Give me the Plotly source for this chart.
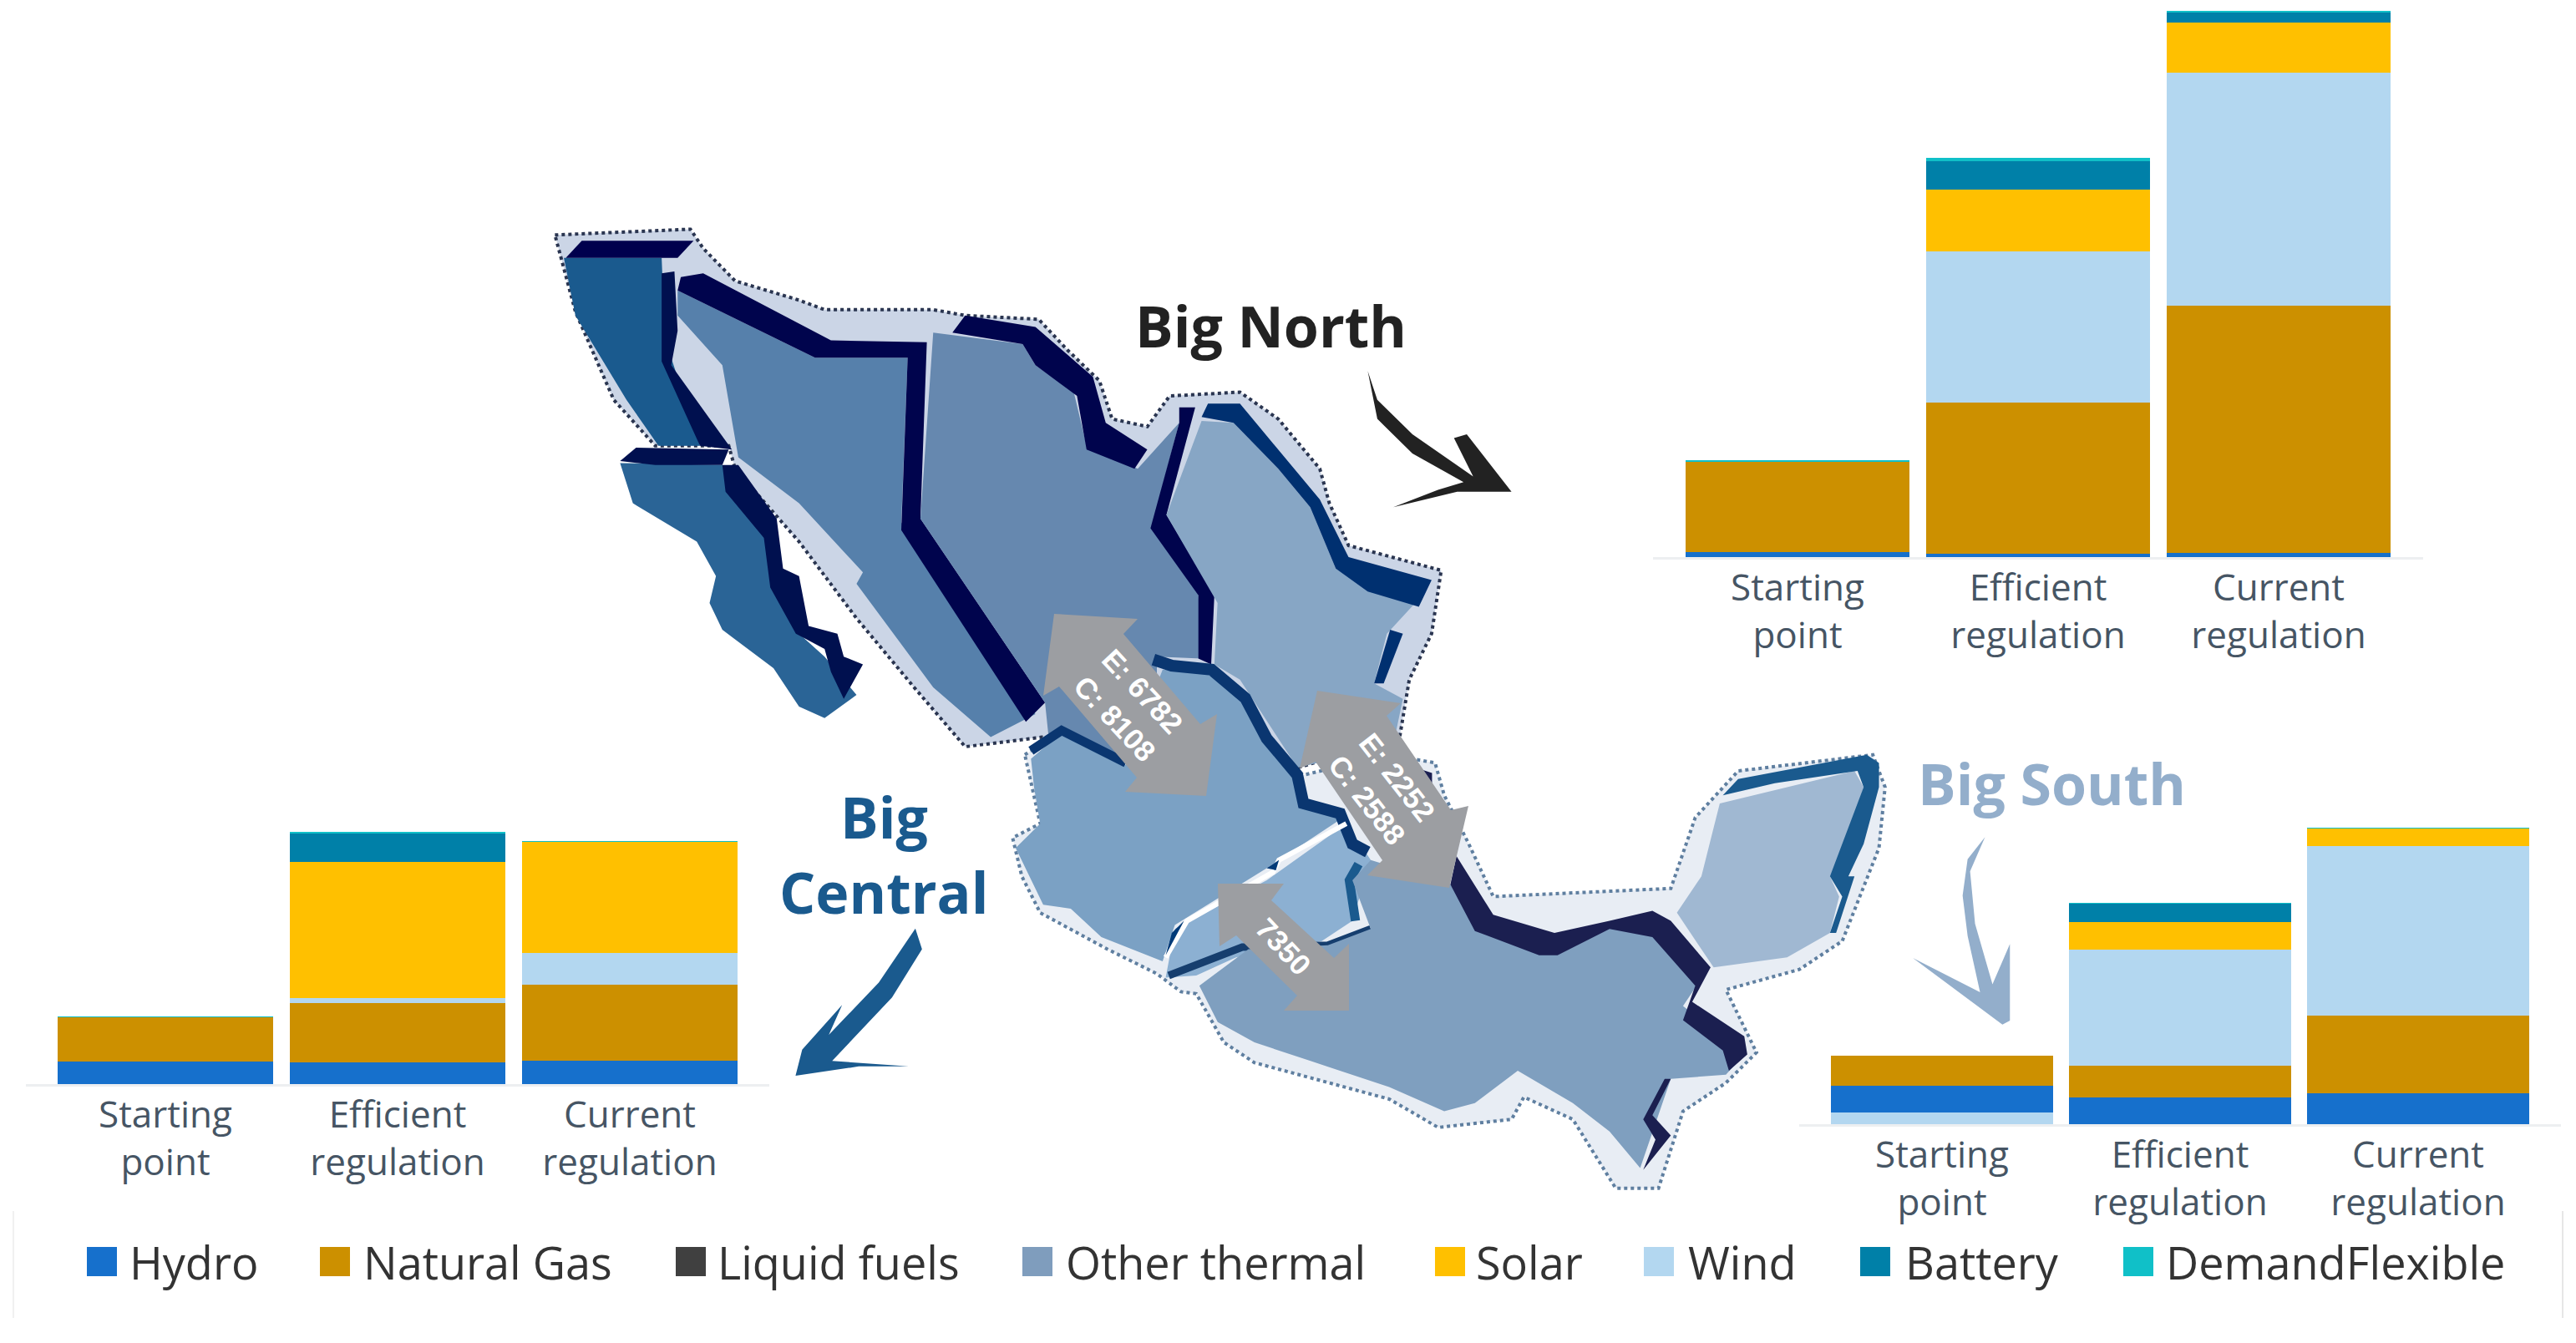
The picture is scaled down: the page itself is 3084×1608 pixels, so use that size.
import plotly.graph_objects as go

W, H = 3084, 1608
PAGE_MARGIN = 8  # the browser's default body margin shifts the plot
categories = ["Starting<br>point", "Efficient<br>regulation", "Current<br>regulation"]
fuel_names = ["Hydro", "Natural Gas", "Liquid fuels", "Other thermal", "Solar", "Wind", "Battery", "DemandFlexible"]
fuel_colors = ["#1670CC", "#CC9000", "#404040", "#7F9DBD", "#FFC000", "#B3D7F0", "#0080A8", "#10C0C8"]

north_hydro = [6, 4, 5]
north_gas = [109, 182, 297]
north_wind = [0, 182, 281]
north_solar = [0, 74, 60]
north_battery = [0, 34, 12]
north_flex = [1, 4, 1]

central_hydro = [27, 26, 28]
central_gas = [53, 71, 91]
central_wind = [0, 6, 38]
central_solar = [0, 163, 133]
central_battery = [0, 34, 0]
central_flex = [1, 2, 1]

south_wind_base = [14, 0, 0]
south_hydro = [32, 32, 37]
south_gas = [36, 38, 93]
south_wind = [0, 139, 203]
south_solar = [0, 33, 21]
south_battery = [0, 22, 0]
south_flex = [0, 1, 1]

regions = {
    "Big North": dict(ax="", center=2440, period=288, base=667, top=5,
                      series=[(0, north_hydro), (1, north_gas), (5, north_wind), (4, north_solar), (6, north_battery), (7, north_flex)]),
    "Big Central": dict(ax="2", center=476, period=278, base=1298, top=980,
                        series=[(0, central_hydro), (1, central_gas), (5, central_wind), (4, central_solar), (6, central_battery), (7, central_flex)]),
    "Big South": dict(ax="3", center=2610, period=285, base=1346, top=980,
                      series=[(5, south_wind_base), (0, south_hydro), (1, south_gas), (5, south_wind), (4, south_solar), (6, south_battery), (7, south_flex)]),
}

def px(x):
    return (x - PAGE_MARGIN) / W
def py(y):
    return 1 - (y - PAGE_MARGIN) / H

fig = go.Figure()
layout = dict(
    width=W, height=H, margin=dict(l=0, r=0, t=0, b=0), barmode="stack", bargap=0.07,
    showlegend=False, paper_bgcolor="white", plot_bgcolor="rgba(0,0,0,0)",
    font=dict(family="Open Sans"),
)
PAD = 0.6
for name, r in regions.items():
    for idx, vals in r["series"]:
        fig.add_trace(go.Bar(x=categories, y=vals, name=fuel_names[idx], marker=dict(color=fuel_colors[idx], line=dict(width=0)),
                             xaxis="x" + r["ax"], yaxis="y" + r["ax"]))
    x0 = px(r["center"] - (1 + PAD) * r["period"])
    x1 = px(r["center"] + (1 + PAD) * r["period"])
    layout["xaxis" + r["ax"]] = dict(
        domain=[x0, min(x1, 1)], anchor="y" + r["ax"], type="category", range=[-PAD, 2 + PAD], showline=True, linecolor="#EDEFF1", linewidth=3,
        showgrid=False, ticks="", tickfont=dict(family="Open Sans", size=44, color="#465564"), tickangle=0, ticklabelstandoff=-4)
    layout["yaxis" + r["ax"]] = dict(
        domain=[py(r["base"]), min(py(r["top"]), 1)], anchor="x" + r["ax"], range=[0, r["base"] - r["top"]],
        visible=False, showgrid=False, zeroline=False)

# ---- map illustration, traced in zoom-crop coordinates ----
def tf(ox, oy, sx, sy):
    return lambda pts: [(ox + x * sx, oy + y * sy) for x, y in pts]
Z2 = tf(0, 900, 0.797, 0.446)
Z3 = tf(2150, 850, 0.596, 0.483)
Z4 = tf(620, 240, 0.765, 0.459)
Z5 = tf(1150, 700, 0.733, 0.485)

shapes = []
def poly(pts, fill=None, line=None, lw=0, dash="solid", close=True):
    d = "M" + " L".join(f"{px(x):.5f},{py(y):.5f}" for x, y in pts) + (" Z" if close else "")
    shapes.append(dict(type="path", path=d, xref="paper", yref="paper",
                       fillcolor=fill or "rgba(0,0,0,0)", layer="above",
                       line=dict(color=line or "rgba(0,0,0,0)", width=lw, dash=dash)))

# halos
poly(Z4([(58,90),(270,75),(290,125),(340,210),(440,260),(480,285),(650,285),(700,300),(815,310),(860,390),(910,470),(930,570),(985,590),(1020,510),(1130,500),(1190,570),(1255,700),(1270,790),(1300,900),(1445,965),(1430,1130),(1395,1250),(1380,1400),(1220,1480),(820,1400),(700,1425),(620,1270),(530,1090),(440,890),(340,700),(330,640),(215,640),(150,520),(90,290)]),
     fill="#CBD5E6", line="#2A3550", lw=4, dash="dot")
poly(Z5([(105,420),(165,360),(330,300),(560,470),(700,420),(775,440),(790,520),(830,640),(870,770),(1160,750),(1200,575),(1270,460),(1490,420),(1510,500),(1500,650),(1440,880),(1370,950),(1250,1000),(1300,1155),(1250,1230),(1180,1300),(1140,1490),(1070,1490),(1000,1320),(920,1265),(900,1320),(780,1340),(700,1270),(480,1180),(430,1130),(385,1010),(360,1005),(320,960),(240,900),(130,810),(100,720),(85,625),(130,590)]),
     fill="#E8EDF4", line="#5F7FA0", lw=4, dash="dot")

# Baja
poly(Z4([(72,150),(225,150),(230,360),(285,640),(220,640),(170,520),(90,300)]), fill="#1A5A8E")
poly(Z4([(75,150),(100,105),(275,105),(250,150)]), fill="#00004D")
poly(Z4([(225,190),(245,185),(250,340),(240,430),(335,650),(285,640),(225,420)]), fill="#00104F")
poly(Z4([(160,685),(320,690),(390,880),(400,1000),(440,1130),(480,1190),(530,1290),(480,1350),(440,1320),(400,1220),(320,1120),(300,1050),(310,980),(280,890),(180,790)]), fill="#2A6496")
poly(Z4([(160,680),(185,645),(330,650),(320,690),(215,690)]), fill="#00104F")
poly(Z4([(320,690),(345,690),(405,830),(415,960),(440,980),(455,1110),(500,1130),(510,1190),(540,1210),(510,1300),(490,1230),(480,1170),(435,1130),(395,1010),(385,880),(325,760)]), fill="#00104F")
# Sonora / Sinaloa
poly(Z4([(250,235),(465,410),(610,410),(600,840),(810,1340),(740,1400),(650,1270),(530,1000),(540,970),(440,790),(345,670),(320,430),(250,300)]), fill="#5680AB")
poly(Z4([(255,200),(290,190),(490,365),(640,370),(630,830),(825,1310),(795,1360),(600,860),(610,410),(465,410),(250,235)]), fill="#00044D")
# Chihuahua / Durango
poly(Z4([(650,345),(790,375),(810,430),(870,500),(890,640),(970,700),(1035,580),(1000,800),(1065,1030),(1070,1195),(1000,1190),(1000,1300),(950,1450),(830,1390),(825,1310),(630,830)]), fill="#6688AF")
poly(Z4([(680,345),(700,300),(810,330),(900,460),(920,580),(985,650),(965,700),(890,650),(875,510),(810,430),(790,375)]), fill="#00044D")
poly(Z4([(1035,540),(1060,540),(1015,820),(1090,1030),(1085,1210),(1065,1195),(1065,1030),(990,855),(1035,580)]), fill="#00044D")
# North-east
poly(Z4([(1070,575),(1120,580),(1190,700),(1240,800),(1280,960),(1340,1020),(1410,1040),(1360,1130),(1340,1260),(1385,1300),(1370,1420),(1220,1480),(1130,1250),(1090,1210),(1095,1050),(1015,820)]), fill="#87A6C5")
poly(Z4([(1080,530),(1130,530),(1255,780),(1300,930),(1430,990),(1410,1060),(1330,1020),(1280,960),(1240,800),(1190,700),(1120,580),(1070,565)]), fill="#003070")
poly(Z4([(1365,1120),(1385,1130),(1355,1260),(1340,1260)]), fill="#003070")
# Central
poly(Z5([(115,430),(165,365),(270,445),(330,210),(410,210),(465,280),(550,470),(565,540),(620,580),(500,700),(350,840),(330,930),(230,870),(180,800),(135,790),(90,650),(130,590),(120,500)]), fill="#7BA1C4")
poly(Z5([(335,970),(350,850),(500,730),(630,590),(670,680),(640,830),(590,880),(450,920),(385,965)]), fill="#8CB0D2")
poly(Z5([(115,410),(165,360),(270,440)]), line="#0A3670", lw=11, close=False)
poly(Z5([(315,185),(345,200),(410,210),(465,280),(500,380),(550,470),(560,540),(620,565),(640,640),(665,660)]), line="#0A3670", lw=14, close=False)
poly(Z5([(630,590),(520,680),(510,710),(370,830),(335,920)]), line="#FFFFFF", lw=6, close=False)
poly(Z5([(500,700),(520,680),(515,705)]), fill="#003A78")
poly(Z5([(345,860),(365,830),(335,915)]), fill="#003A78")
poly(Z5([(340,965),(460,895),(600,890),(670,850)]), line="#163E6E", lw=9, close=False)
poly(Z5([(650,690),(635,730),(645,830)]), line="#1A5A8E", lw=11, close=False)
# South
poly(Z5([(390,990),(470,900),(600,890),(670,850),(640,730),(670,680),(800,740),(850,850),(950,900),(1010,880),(1060,840),(1130,840),(1220,950),(1180,1040),(1280,1160),(1250,1210),(1160,1220),(1110,1440),(1060,1350),(1000,1280),(910,1200),(840,1280),(790,1300),(700,1240),(600,1190),(480,1130),(420,1080)]), fill="#7F9FBF")
poly(Z5([(810,670),(870,815),(970,860),(1060,830),(1130,805),(1160,830),(1225,945),(1195,1030),(1280,1115),(1285,1160),(1255,1200),(1245,1150),(1180,1075),(1200,990),(1130,870),(1060,850),(975,915),(945,915),(840,855),(800,740)]), fill="#1B1F50")
poly(Z5([(1150,1220),(1160,1220),(1130,1310),(1160,1360),(1115,1445),(1135,1370),(1115,1320)]), fill="#1B1F50")
poly(Z5([(720,440),(770,465),(770,530),(740,480)]), fill="#1B1F50")
# Yucatan
poly(Z5([(1240,540),(1460,460),(1475,500),(1440,680),(1420,720),(1435,770),(1420,860),(1350,920),(1230,945),(1170,810),(1210,720),(1230,600)]), fill="#A0B8D2")
poly(Z5([(1245,520),(1270,480),(1480,420),(1500,440),(1500,500),(1475,640),(1450,720),(1460,720),(1430,860),(1420,860),(1440,770),(1420,720),(1475,500),(1465,460),(1330,490)]), fill="#1A5A8E")

# exchange arrows
ARROW = "#9C9EA2"
poly([(1262,735),(1362,741),(1345,759),(1437,867),(1457,855),(1444,953),(1347,948),(1361,931),(1268,822),(1249,833)], fill=ARROW)
poly([(1577,827),(1677,842),(1660,857),(1737,970),(1758,965),(1735,1063),(1637,1048),(1655,1030),(1575,912),(1556,920)], fill=ARROW)
poly([(1458,1058),(1537,1058),(1522,1078),(1597,1147),(1615,1130),(1615,1210),(1537,1210),(1553,1192),(1480,1120),(1460,1133)], fill=ARROW)

# curved pointers
poly(Z4([(1330,445),(1345,520),(1400,610),(1495,720),(1465,620),(1485,610),(1555,760),(1470,760),(1370,800),(1440,755),(1480,735),(1400,660),(1345,570)]), fill="#222222")
poly(Z2([(1375,475),(1385,530),(1340,660),(1250,830),(1365,845),(1290,845),(1195,870),(1205,800),(1265,680),(1245,760),(1320,620)]), fill="#1A5A8E")
poly(Z3([(380,315),(350,400),(360,530),(395,680),(430,580),(430,770),(415,780),(235,615),(370,700),(345,560),(335,460),(345,370)]), fill="#93AECB")

# legend box edges
poly([(16, 1450), (16, 1578)], line="#F0F0F0", lw=2, close=False)
poly([(3068, 1450), (3068, 1578)], line="#E6E6E6", lw=2, close=False)

# legend
legend_swatch_x = [104, 383, 809, 1224, 1718, 1968, 2227, 2542]
legend_text_x = [153, 433, 857, 1274, 1765, 2019, 2279, 2591]
annotations = []
def label(text, x, y, size, color, family="Open Sans", bold=False, angle=0, anchor="center"):
    annotations.append(dict(text=f"<b>{text}</b>" if bold else text, x=px(x), y=py(y), xref="paper", yref="paper",
                            showarrow=False, xanchor=anchor, yanchor="middle", textangle=angle,
                            font=dict(family=family, size=size, color=color)))
for n, c, sx, tx in zip(fuel_names, fuel_colors, legend_swatch_x, legend_text_x):
    poly([(sx, 1493), (sx + 36, 1493), (sx + 36, 1528), (sx, 1528)], fill=c)
    label(n, tx, 1511, 54, "#333333", anchor="left")

label("Big North", 1521, 389, 68, "#222222", bold=True)
label("Big", 1058, 977, 68, "#1A5A8E", bold=True)
label("Central", 1058, 1067, 68, "#1A5A8E", bold=True)
label("Big South", 2456, 937, 68, "#93AECB", bold=True)

ARROW_FONT = 35
label("E: 6782", 1368, 827, ARROW_FONT, "white", family="Liberation Sans", bold=True, angle=47)
label("C: 8108", 1335, 860, ARROW_FONT, "white", family="Liberation Sans", bold=True, angle=47)
label("E: 2252", 1673, 930, ARROW_FONT, "white", family="Liberation Sans", bold=True, angle=52)
label("C: 2588", 1637, 957, ARROW_FONT, "white", family="Liberation Sans", bold=True, angle=52)
label("7350", 1537, 1133, ARROW_FONT, "white", family="Liberation Sans", bold=True, angle=47)

layout["shapes"] = shapes
layout["annotations"] = annotations
fig.update_layout(**layout)
fig.write_html("out.html")
